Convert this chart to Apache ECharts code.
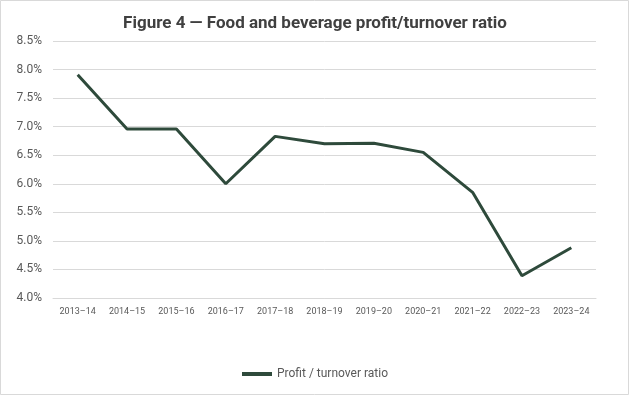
<!DOCTYPE html>
<html>
<head>
<meta charset="utf-8">
<script src="https://cdn.jsdelivr.net/npm/echarts@6/dist/echarts.min.js"></script>
<style>
  html, body { margin: 0; padding: 0; background: #fff; }
  #chart { width: 630px; height: 396px; }
</style>
</head>
<body>
<div id="chart"></div>
<script>
// 数据
var years = ['2013–14', '2014–15', '2015–16', '2016–17', '2017–18', '2018–19',
             '2019–20', '2020–21', '2021–22', '2022–23', '2023–24'];
var ratio = [7.91, 6.96, 6.96, 6.00, 6.83, 6.70, 6.71, 6.55, 5.85, 4.39, 4.88];
var seriesName = 'Profit / turnover ratio';
var titleText = 'Figure 4 — Food and beverage profit/turnover ratio';

var lineColor = '#2e4a3b';
var chart = echarts.init(document.getElementById('chart'));
chart.setOption({
    animation: false,
    backgroundColor: '#fff',
    textStyle: { fontFamily: 'Roboto' },
    title: {
        text: titleText,
        left: 'center',
        top: 10,
        textStyle: {
            fontSize: 17,
            fontWeight: 'bold',
            color: '#404040',
            fontFamily: 'Roboto'
        }
    },
    graphic: [{
        type: 'rect',
        shape: { x: 0.5, y: 0.5, width: 628, height: 394 },
        style: { fill: 'none', stroke: '#d9d9d9', lineWidth: 1 },
        silent: true
    }],
    legend: {
        bottom: 11,
        left: 'center',
        icon: 'rect',
        itemWidth: 30,
        itemHeight: 4,
        itemGap: 3,
        textStyle: { color: '#595959', fontSize: 12 },
        data: [seriesName]
    },
    grid: {
        left: 53,
        right: 34,
        top: 41,
        bottom: 98
    },
    xAxis: {
        type: 'category',
        data: years,
        boundaryGap: true,
        axisLine: { lineStyle: { color: '#d9d9d9' } },
        axisTick: { show: false },
        axisLabel: {
            interval: 0,
            color: '#595959',
            fontSize: 9,
            margin: 9
        }
    },
    yAxis: {
        type: 'value',
        min: 4,
        max: 8.5,
        interval: 0.5,
        axisLine: { show: false },
        axisTick: { show: false },
        splitLine: { lineStyle: { color: '#d9d9d9' } },
        axisLabel: {
            color: '#595959',
            fontSize: 12,
            margin: 11,
            formatter: function (v) {
                return v.toFixed(1) + '%';
            }
        }
    },
    series: [{
        name: seriesName,
        type: 'line',
        data: ratio,
        symbol: 'none',
        lineStyle: { color: lineColor, width: 3 },
        itemStyle: { color: lineColor }
    }]
});
</script>
</body>
</html>
